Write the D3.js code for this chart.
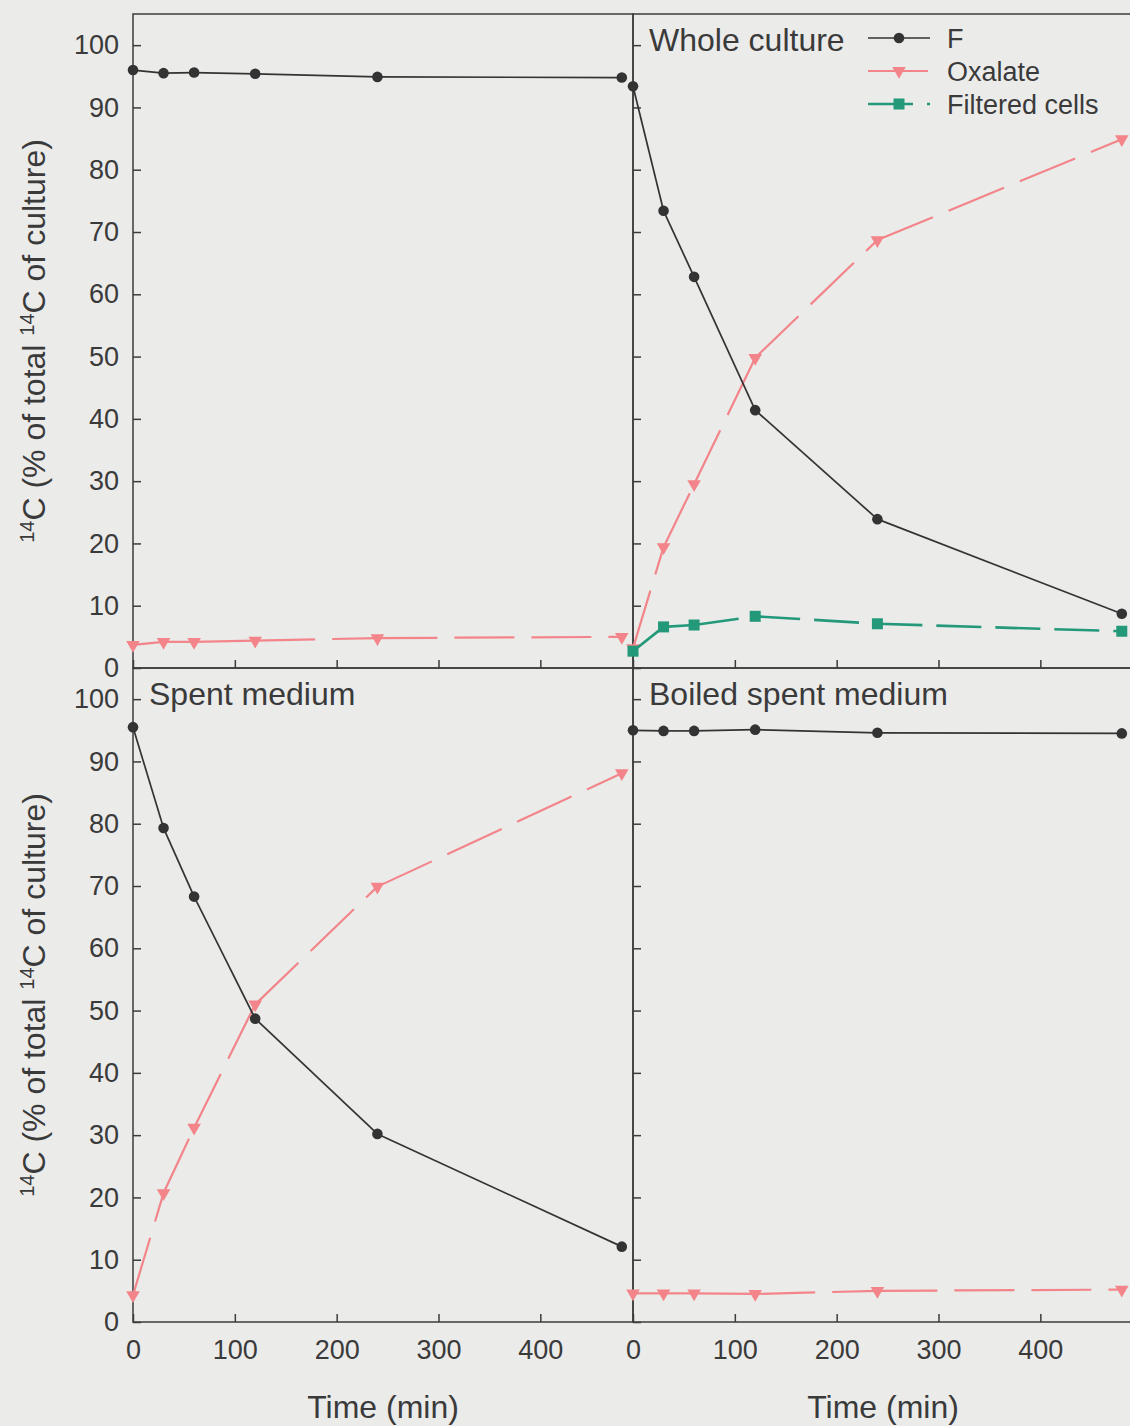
<!DOCTYPE html>
<html>
<head>
<meta charset="utf-8">
<script src="https://cdn.jsdelivr.net/npm/d3@7"></script>
<style>
  html, body { margin: 0; padding: 0; background: #ebebea; }
  svg { display: block; }
  text { font-family: "Liberation Sans", Arial, sans-serif; fill: #3a3a3a; }
</style>
</head>
<body>
<svg id="chart" width="1130" height="1426"></svg>
<script>
// Sampling times (min)
const times = [0, 30, 60, 120, 240, 480];
const xTickValues = [0, 100, 200, 300, 400];
const yTickValues = [0, 10, 20, 30, 40, 50, 60, 70, 80, 90, 100];

// Control (upper left)
const controlF = [96.0, 95.5, 95.6, 95.4, 94.9, 94.8];
const controlOxalate = [3.7, 4.2, 4.2, 4.4, 4.8, 5.0];

// Whole culture
const wholeF = [93.4, 73.4, 62.8, 41.4, 23.9, 8.7];
const wholeOxalate = [3.2, 19.4, 29.5, 49.8, 68.7, 84.9];
const wholeFiltered = [2.7, 6.6, 6.9, 8.3, 7.1, 5.9];

// Spent medium
const spentF = [95.5, 79.3, 68.3, 48.7, 30.2, 12.1];
const spentOxalate = [4.3, 20.7, 31.2, 51.0, 69.9, 88.1];

// Boiled spent medium
const boiledF = [95.0, 94.9, 94.9, 95.1, 94.6, 94.5];
const boiledOxalate = [4.6, 4.6, 4.6, 4.5, 5.0, 5.2];

const legendLabels = ["F", "Oxalate", "Filtered cells"];

const svg = d3.select("#chart");
const ink = "#3c3c3c";

const styles = {
  F:        { color: "#333333", dash: null,    width: 1.7, symbol: "circle" },
  oxalate:  { color: "#f3858a", dash: "60,17", width: 2.2, symbol: "triangle" },
  filtered: { color: "#23997a", dash: "45,14", width: 2.6, symbol: "square" }
};

const panelW = 500, panelH = 654;
const panels = [
  { x0: 133, y0: 14,  title: null, series: [["oxalate", controlOxalate], ["F", controlF]], yLabels: true,  xLabels: false },
  { x0: 633, y0: 14,  title: "Whole culture", series: [["oxalate", wholeOxalate], ["filtered", wholeFiltered], ["F", wholeF]], yLabels: false, xLabels: false, legend: true },
  { x0: 133, y0: 668, title: "Spent medium", series: [["oxalate", spentOxalate], ["F", spentF]], yLabels: true,  xLabels: true },
  { x0: 633, y0: 668, title: "Boiled spent medium", series: [["oxalate", boiledOxalate], ["F", boiledF]], yLabels: false, xLabels: true }
];

const x = d3.scaleLinear().domain([0, 491]).range([0, panelW]);
const y = d3.scaleLinear().domain([0, 105]).range([panelH, 0]);

function drawMarker(g, kind, cx, cy) {
  const st = styles[kind];
  if (st.symbol === "circle") {
    g.append("circle").attr("cx", cx).attr("cy", cy).attr("r", 5.3).attr("fill", st.color);
  } else if (st.symbol === "triangle") {
    g.append("path")
      .attr("d", d3.symbol().type(d3.symbolTriangle).size(80)())
      .attr("transform", `translate(${cx},${cy}) rotate(180)`)
      .attr("fill", st.color);
  } else {
    g.append("rect").attr("x", cx - 5.5).attr("y", cy - 5.5)
      .attr("width", 11).attr("height", 11).attr("fill", st.color);
  }
}

function drawSeries(g, kind, values) {
  const st = styles[kind];
  const pts = times.map((t, i) => [x(t), y(values[i])]);
  // each segment starts its own dash pattern
  for (let i = 0; i < pts.length - 1; i++) {
    g.append("path")
      .attr("d", d3.line()([pts[i], pts[i + 1]]))
      .attr("fill", "none")
      .attr("stroke", st.color)
      .attr("stroke-width", st.width)
      .attr("stroke-dasharray", st.dash);
  }
  pts.forEach(p => drawMarker(g, kind, p[0], p[1]));
}

panels.forEach(p => {
  const g = svg.append("g").attr("transform", `translate(${p.x0},${p.y0})`);

  // frame
  g.append("rect").attr("width", panelW).attr("height", panelH)
    .attr("fill", "none").attr("stroke", ink).attr("stroke-width", 1.5);

  // y axis (ticks point inward)
  const ya = g.append("g").call(
    d3.axisLeft(y).tickValues(yTickValues).tickSizeInner(-8).tickSizeOuter(0).tickPadding(14)
  );
  ya.select(".domain").remove();
  ya.selectAll("line").attr("stroke", ink).attr("stroke-width", 1.5);
  if (p.yLabels) {
    ya.selectAll("text").attr("font-size", 27).attr("fill", ink).style("font-family", "Liberation Sans, Arial, sans-serif");
  } else {
    ya.selectAll("text").remove();
  }

  // x axis (ticks point inward)
  const xa = g.append("g").attr("transform", `translate(0,${panelH})`).call(
    d3.axisBottom(x).tickValues(xTickValues).tickSizeInner(-8).tickSizeOuter(0).tickPadding(18)
  );
  xa.select(".domain").remove();
  xa.selectAll("line").attr("stroke", ink).attr("stroke-width", 1.5);
  if (p.xLabels) {
    xa.selectAll("text").attr("font-size", 27).attr("fill", ink).style("font-family", "Liberation Sans, Arial, sans-serif");
    g.append("text")
      .attr("x", panelW / 2).attr("y", panelH + 96)
      .attr("text-anchor", "middle").attr("font-size", 32)
      .text("Time (min)");
  } else {
    xa.selectAll("text").remove();
  }

  // data
  p.series.forEach(([kind, vals]) => drawSeries(g, kind, vals));

  if (p.title) {
    g.append("text").attr("x", 16).attr("y", 37).attr("font-size", 32).text(p.title);
  }

  if (p.legend) {
    const kinds = ["F", "oxalate", "filtered"];
    kinds.forEach((k, i) => {
      const ly = 24 + i * 33;
      const st = styles[k];
      g.append("path")
        .attr("d", d3.line()([[235, ly], [297, ly]]))
        .attr("fill", "none").attr("stroke", st.color)
        .attr("stroke-width", st.width).attr("stroke-dasharray", st.dash);
      drawMarker(g, k, 266, ly);
      g.append("text").attr("x", 314).attr("y", ly).attr("dy", "0.36em")
        .attr("font-size", 27).text(legendLabels[i]);
    });
  }

  // y axis title for the left column
  if (p.yLabels) {
    const t = svg.append("text")
      .attr("transform", `translate(45,${p.y0 + panelH / 2}) rotate(-90)`)
      .attr("text-anchor", "middle").attr("font-size", 32);
    t.append("tspan").attr("font-size", 20).attr("dy", -11).text("14");
    t.append("tspan").attr("dy", 11).text("C (% of total ");
    t.append("tspan").attr("font-size", 20).attr("dy", -11).text("14");
    t.append("tspan").attr("dy", 11).text("C of culture)");
  }
});
</script>
</body>
</html>
